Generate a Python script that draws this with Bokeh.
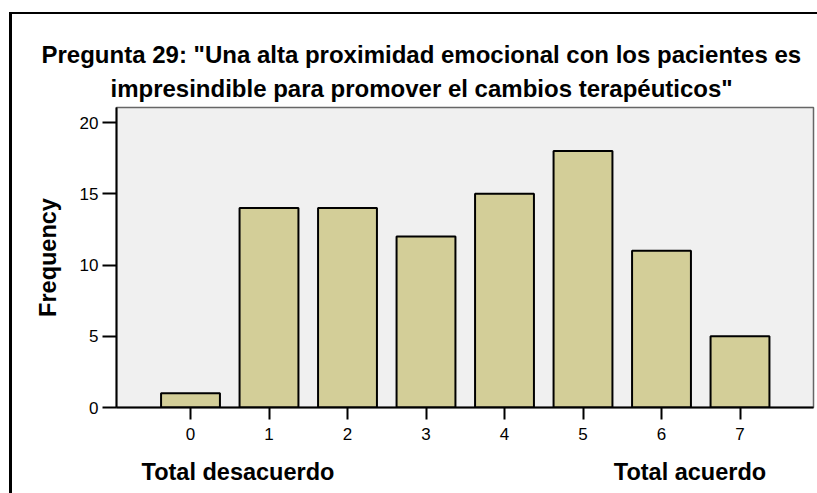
from bokeh.plotting import figure
from bokeh.models import FixedTicker, Range1d, Title, LinearAxis
from bokeh.embed import file_html
from bokeh.resources import INLINE

categories = [0, 1, 2, 3, 4, 5, 6, 7]
frequency = [1, 14, 14, 12, 15, 18, 11, 5]
y_ticks = [0, 5, 10, 15, 20]
title_lines = ['Pregunta 29: "Una alta proximidad emocional con los pacientes es',
               'impresindible para promover el cambios terapéuticos"']
left_label = "Total desacuerdo"
right_label = "Total acuerdo"
y_label = "Frequency"

FONT = "Liberation Sans"
W, H = 817, 493
MB_L, MB_R, MB_T, MB_B = 116, 4, 107, 86
frame_w = W - MB_L - MB_R
frame_h = H - MB_T - MB_B
px_x = 78.5
px_y = 14.25
x0 = -74 / px_x
x1 = x0 + frame_w / px_x
y1 = frame_h / px_y

p = figure(width=W, height=H, output_backend="svg", toolbar_location=None,
           x_range=Range1d(x0, x1), y_range=Range1d(0, y1),
           min_border_left=MB_L, min_border_right=MB_R,
           min_border_top=MB_T, min_border_bottom=MB_B)
p.border_fill_color = None
p.styles = {
    "background": "linear-gradient(#000,#000) 9px 12px / 3px 100% no-repeat, "
                  "linear-gradient(#000,#000) 9px 12px / 100% 2px no-repeat, #fff"
}
p.background_fill_color = "#F0F0F0"
p.outline_line_color = "#666666"
p.outline_line_width = 1.5
p.grid.visible = False

p.vbar(x=categories, top=frequency, width=0.75, bottom=0,
       fill_color="#D3CE98", line_color="black", line_width=2)

for ax in (p.xaxis[0], p.yaxis[0]):
    ax.major_label_text_font = FONT
    ax.major_label_text_font_size = "17px"
    ax.major_label_text_color = "black"
    ax.major_tick_line_color = "black"
    ax.major_tick_line_width = 2
    ax.major_tick_in = 0
    ax.minor_tick_line_color = None
    ax.axis_line_color = "black"
    ax.axis_line_width = 2

p.xaxis.ticker = FixedTicker(ticks=categories)
p.xaxis.major_tick_out = 12
p.xaxis.major_label_standoff = 8
p.yaxis.ticker = FixedTicker(ticks=y_ticks)
p.yaxis.major_tick_out = 14
p.yaxis.major_label_standoff = 4
p.yaxis.axis_label = y_label
p.yaxis.axis_label_text_font = FONT
p.yaxis.axis_label_text_font_size = "23.5px"
p.yaxis.axis_label_text_font_style = "bold"
p.yaxis.axis_label_text_color = "black"
p.yaxis.axis_label_standoff = 16

# end labels of the scale, as a second (tick-less) axis row below
end_pos = [0.605, 6.363]
end_axis = LinearAxis(ticker=FixedTicker(ticks=end_pos),
                      major_label_overrides={end_pos[0]: left_label, end_pos[1]: right_label},
                      axis_line_color=None, major_tick_line_color=None,
                      minor_tick_line_color=None, major_label_standoff=10,
                      major_label_text_font=FONT, major_label_text_font_size="23.5px",
                      major_label_text_font_style="bold", major_label_text_color="black")
p.add_layout(end_axis, "below")

# title: second line nearest the frame is added first
t2 = Title(text=title_lines[1], align="left", offset=-6, standoff=11,
           text_font=FONT, text_font_size="24px", text_font_style="bold",
           text_color="black")
t1 = Title(text=title_lines[0], align="left", offset=-75, standoff=0,
           text_font=FONT, text_font_size="24px", text_font_style="bold",
           text_color="black")
p.add_layout(t2, "above")
p.add_layout(t1, "above")

open("out.html", "w").write(file_html(p, INLINE))
